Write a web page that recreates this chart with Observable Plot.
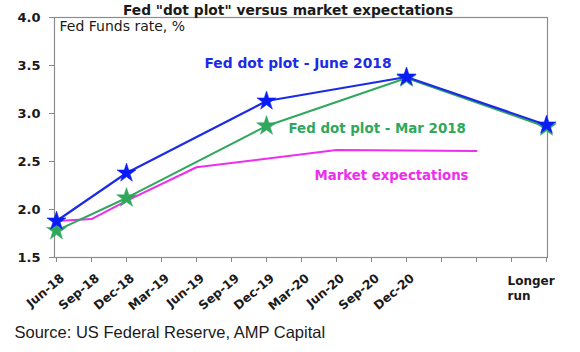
<!DOCTYPE html>
<html><head><meta charset="utf-8">
<script src="https://cdn.jsdelivr.net/npm/d3@7"></script>
<script src="https://cdn.jsdelivr.net/npm/@observablehq/plot@0.6"></script>
<style>html,body{margin:0;padding:0;background:#fff} svg{display:block}</style>
</head><body><div id="chart"></div>
<script>
// categories (quarterly x positions, plus "Longer run")
const quarters = ["Jun-18","Sep-18","Dec-18","Mar-19","Jun-19","Sep-19","Dec-19","Mar-20","Jun-20","Sep-20","Dec-20","Mar-21","Jun-21","Sep-21","Longer run"];
const tickLabels = ["Jun-18","Sep-18","Dec-18","Mar-19","Jun-19","Sep-19","Dec-19","Mar-20","Jun-20","Sep-20","Dec-20"];
// Fed dot plot medians
const dotCats = ["Jun-18","Dec-18","Dec-19","Dec-20","Longer run"];
const june2018 = [1.88, 2.38, 3.13, 3.38, 2.88];
const mar2018 = [1.78, 2.12, 2.87, 3.37, 2.86];
// Market expectations
const marketCats = ["Jun-18","Sep-18","Dec-18","Jun-19","Jun-20","Jun-21"];
const marketVals = [1.88, 1.90, 2.09, 2.44, 2.62, 2.61];
const yTicks = [1.5, 2.0, 2.5, 3.0, 3.5, 4.0];

const junData = dotCats.map((c, i) => ({x: c, y: june2018[i]}));
const marData = dotCats.map((c, i) => ({x: c, y: mar2018[i]}));
const mktData = marketCats.map((c, i) => ({x: c, y: marketVals[i]}));

const BLUE = "#1c2be6", BLUE_STAR = "#0a1cf5", GREEN = "#2fa85c", MAGENTA = "#ee2eee";
const F = "DejaVu Sans";

const chart = Plot.plot({
  width: 580, height: 352,
  marginLeft: 54, marginRight: 33, marginTop: 17, marginBottom: 95,
  style: {fontFamily: F, background: "#fff", overflow: "visible", color: "#1a1a1a"},
  x: {type: "point", domain: quarters, padding: 0},
  y: {domain: [1.5, 4]},
  marks: [
    Plot.frame({stroke: "#8c8c8c", strokeWidth: 1.2}),
    Plot.axisY({ticks: yTicks, tickFormat: d => d.toFixed(1), tickSize: 5, tickPadding: 9,
      fontSize: 13, fontWeight: "bold", stroke: "#888", label: null}),
    Plot.axisX({ticks: quarters, tickFormat: null, tickSize: 5, stroke: "#888", label: null}),
    Plot.text(tickLabels, {x: d => d, y: () => 1.5, dx: 6, dy: 19, rotate: -40,
      textAnchor: "end", lineAnchor: "middle", fontWeight: "bold", fontSize: 12.3}),
    Plot.line(mktData, {x: "x", y: "y", stroke: MAGENTA, strokeWidth: 2}),
    Plot.line(marData, {x: "x", y: "y", stroke: GREEN, strokeWidth: 2}),
    Plot.dot(marData, {x: "x", y: "y", symbol: "star", r: 6.2, fill: GREEN, stroke: GREEN, strokeWidth: 0.5}),
    Plot.line(junData, {x: "x", y: "y", stroke: BLUE, strokeWidth: 2.2}),
    Plot.dot(junData, {x: "x", y: "y", symbol: "star", r: 6, fill: BLUE_STAR, stroke: BLUE_STAR, strokeWidth: 0.5}),
    // series labels
    Plot.text(["Fed dot plot - June 2018"], {x: () => "Jun-19", y: () => 3.52, dx: 8, textAnchor: "start",
      fill: BLUE, fontWeight: "bold", fontSize: 13.8}),
    Plot.text(["Fed dot plot - Mar 2018"], {x: () => "Dec-19", y: () => 2.84, dx: 22, textAnchor: "start",
      fill: GREEN, fontWeight: "bold", fontSize: 13.4}),
    Plot.text(["Market expectations"], {x: () => "Mar-20", y: () => 2.35, dx: 13, textAnchor: "start",
      fill: MAGENTA, fontWeight: "bold", fontSize: 13.3}),
    // Longer run label
    Plot.text(["Longer\nrun"], {x: () => "Longer run", y: () => 1.5, dx: -39, dy: 17, textAnchor: "start",
      lineAnchor: "top", fontWeight: "bold", fontSize: 12, lineHeight: 1.25}),
    // title, axis unit, source
    Plot.text(["Fed \"dot plot\" versus market expectations"], {frameAnchor: "top", dx: -13, dy: -3,
      lineAnchor: "bottom", fontWeight: "bold", fontSize: 13.8}),
    Plot.text(["Fed Funds rate, %"], {frameAnchor: "top-left", dx: 5, dy: 4, lineAnchor: "top",
      textAnchor: "start", fontSize: 14}),
    Plot.text(["Source: US Federal Reserve, AMP Capital"], {frameAnchor: "bottom-left", dx: -40, dy: 80,
      lineAnchor: "bottom", textAnchor: "start", fontSize: 16.5, fontFamily: "Liberation Sans"})
  ]
});
document.getElementById("chart").appendChild(chart);
</script>
</body></html>
